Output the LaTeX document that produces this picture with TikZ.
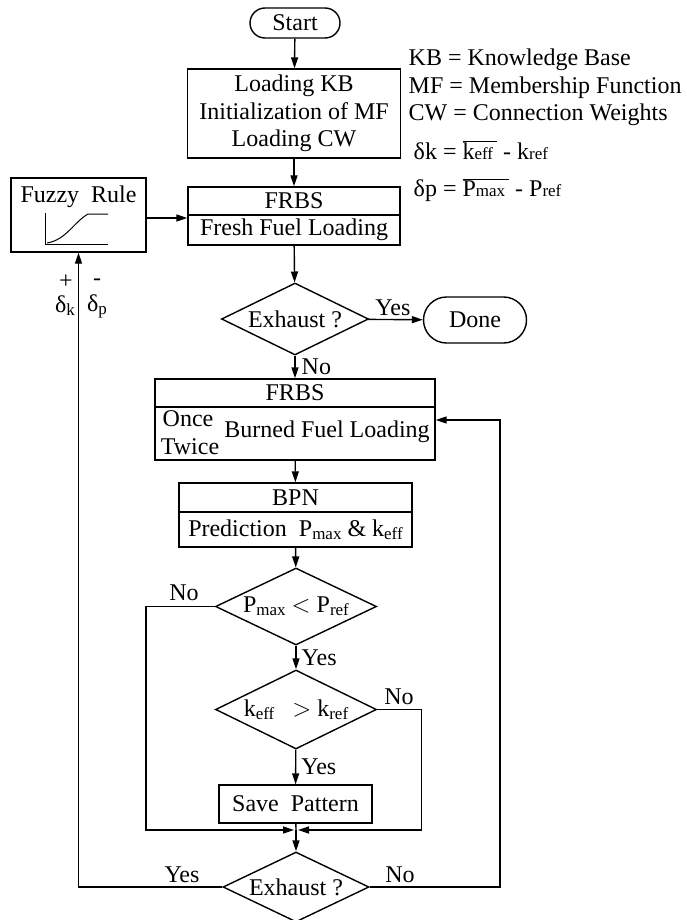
\documentclass[tikz,border=0pt]{standalone}
\usepackage{fontspec}
\setmainfont{Liberation Serif}
\usepackage{tikz}
\usetikzlibrary{shapes.geometric, arrows.meta, positioning, calc}

\newcommand{\sbs}[1]{\raisebox{-3pt}{\fontsize{17}{17}\selectfont #1}}
\newcommand{\sml}[1]{{\fontsize{17}{17}\selectfont #1}}

\begin{document}
\begin{tikzpicture}[
    x=1pt, y=-1pt,
    font=\fontsize{24}{27.5}\selectfont,
    line width=1.4pt,
    box/.style={rectangle, draw, inner sep=0pt, align=center},
    terminal/.style={rectangle, rounded corners=#1, draw, inner sep=0pt, align=center},
    decision/.style={diamond, aspect=2, draw, inner sep=0pt, align=center},
    lbl/.style={inner sep=0pt},
    arr/.style={-{Triangle[length=11pt, width=7pt]}},
]
\useasboundingbox (0,0) rectangle (687,920);

% main column
\node[terminal=15pt, minimum width=90, minimum height=30] (start) at (295,23) {Start};
\node[box, minimum width=213, minimum height=89] (init) at (294,113.5) {Loading KB\\Initialization of MF\\Loading CW};
\node[box, minimum width=212, minimum height=28] (frbsA) at (294,201) {FRBS};
\node[box, minimum width=212, minimum height=30] (frbsB) at (294,230) {Fresh Fuel Loading};
\node[decision, minimum width=147, minimum height=72] (exA) at (295,319) {Exhaust ?};
\node[terminal=23pt, minimum width=103, minimum height=46] (done) at (475,320) {Done};
\node[box, minimum width=280, minimum height=28] (frbsC) at (295,393) {FRBS};
\node[box, minimum width=280, minimum height=53] (frbsD) at (295,433.5) {};
\node[lbl] (once) at (188,419) {Once};
\node[lbl] (twice) at (190,447) {Twice};
\node[lbl] (burned) at (327,432) {Burned Fuel Loading};
\node[box, minimum width=233, minimum height=29] (bpnA) at (295.5,497.5) {BPN};
\node[box, minimum width=233, minimum height=35] (bpnB) at (295.5,529.5) {Prediction~ P\sbs{max} \& k\sbs{eff}};
\node[decision, minimum width=161, minimum height=77] (pchk) at (296,606.5) {P\sbs{max} $<$ P\sbs{ref}};
\node[decision, minimum width=161, minimum height=79] (kchk) at (296,709.5) {k\sbs{eff} ~~$>$ k\sbs{ref}};
\node[box, minimum width=153, minimum height=38] (save) at (295.5,804) {Save~ Pattern};
\coordinate (merge) at (296,830);
\node[decision, minimum width=146, minimum height=70] (exB) at (296,887) {Exhaust ?};

% fuzzy rule box
\node[box, minimum width=135, minimum height=74] (fuzzy) at (78.5,215) {};
\node[lbl] (fuzzytxt) at (78.5,197) {Fuzzy~~Rule};
\draw[line width=1pt] (45,213) -- (45,244) -- (108,244);
\draw[line width=1pt] (47,243) .. controls (66,240) and (74,222) .. (88,214) -- (108,214);

% legend
\node[lbl, anchor=west] (kb) at (408,60) {KB = Knowledge Base};
\node[lbl, anchor=west] (mf) at (408,88) {MF = Membership Function};
\node[lbl, anchor=west] (cw) at (408,115) {CW = Connection Weights};
\node[lbl, anchor=west] (dk) at (413,150) {δk = $\overline{\hbox{k\sml{eff}\,}}$ - k\sml{ref}};
\node[lbl, anchor=west] (dp) at (413,190) {δp = $\overline{\hbox{P\sml{max}\,}}$ - P\sml{ref}};

% connectors
\draw[arr] (start) -- (init);
\draw[arr] (init) -- (frbsA);
\draw[arr] ([yshift=-3pt]fuzzy.east) -- ([yshift=-3pt]fuzzy.east -| frbsB.west);
\draw[arr] (frbsB) -- (exA);
\draw[arr] (exA) -- (done) node[pos=0.45, above, lbl, yshift=3pt] {Yes};
\draw[arr] (exA) -- (frbsC) node[midway, right, lbl, xshift=6pt] {No};
\draw[arr] (frbsD) -- (bpnA);
\draw[arr] (bpnB) -- (pchk);
\draw[arr] (pchk) -- (kchk) node[midway, right, lbl, xshift=5pt] {Yes};
\draw[arr] (kchk) -- (save) node[midway, right, lbl, xshift=5pt] {Yes};
\draw[arr, shorten >=2pt] (pchk.west) -- ++(-69,0) coordinate (pl) |- (merge);
\draw[arr, shorten >=2pt] (kchk.east) -- ++(44,0) coordinate (kr) |- (merge);
\draw (save) -- (merge);
\draw[arr] (merge) -- (exB);
\draw[arr] (exB.west) -| (fuzzy.south);
\coordinate (loopR) at (500,420);
\draw[arr] (exB.east) -| (loopR) -- (loopR -| frbsD.east);

% branch labels
\node[lbl] (pno) at (184,593) {No};
\node[lbl] (kno) at (399,697) {No};
\node[lbl] (byes) at (182,875) {Yes};
\node[lbl] (bno) at (400,875) {No};
\node[lbl] (plus) at (66,282) {+};
\node[lbl] (minus) at (97,282) {-};
\node[lbl] (dklbl) at (65,306) {δ\sbs{k}};
\node[lbl] (dplbl) at (97,306) {δ\sbs{p}};

\end{tikzpicture}
\end{document}
